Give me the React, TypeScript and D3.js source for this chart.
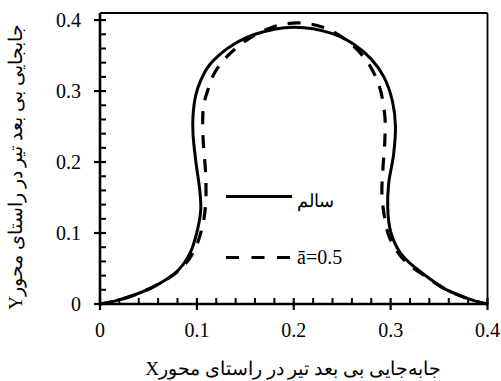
import React from "react";
import * as d3 from "d3";

const solidX = [0, 0.012, 0.034, 0.059, 0.081, 0.093, 0.1, 0.104, 0.103, 0.099, 0.096, 0.096, 0.099, 0.104, 0.112, 0.125, 0.137, 0.16, 0.2, 0.24, 0.262, 0.28, 0.293, 0.302, 0.305, 0.303, 0.298, 0.297, 0.3, 0.31, 0.322, 0.338, 0.355, 0.375, 0.39, 0.4];
const solidY = [0, 0.003, 0.012, 0.027, 0.048, 0.072, 0.101, 0.133, 0.16, 0.2, 0.24, 0.265, 0.295, 0.315, 0.335, 0.353, 0.365, 0.38, 0.39, 0.381, 0.366, 0.345, 0.32, 0.285, 0.25, 0.21, 0.17, 0.135, 0.102, 0.072, 0.055, 0.038, 0.022, 0.01, 0.003, 0];
const dashX = [0, 0.012, 0.034, 0.059, 0.082, 0.096, 0.105, 0.109, 0.109, 0.107, 0.106, 0.107, 0.111, 0.118, 0.132, 0.155, 0.18, 0.205, 0.23, 0.255, 0.275, 0.288, 0.294, 0.294, 0.292, 0.291, 0.294, 0.299, 0.31, 0.322, 0.338, 0.355, 0.375, 0.39, 0.4];
const dashY = [0, 0.003, 0.012, 0.027, 0.048, 0.072, 0.105, 0.14, 0.185, 0.22, 0.25, 0.28, 0.3, 0.325, 0.35, 0.375, 0.391, 0.396, 0.39, 0.371, 0.343, 0.308, 0.265, 0.23, 0.19, 0.155, 0.12, 0.093, 0.068, 0.052, 0.037, 0.022, 0.01, 0.003, 0];

const xTicks = [0, 0.1, 0.2, 0.3, 0.4];
const yTicks = [0, 0.1, 0.2, 0.3, 0.4];
const minorStep = 0.02;
const seriesNames = ["سالم", "ā=0.5"];
const xTitle = "جابه‌جایی بی بعد تیر در راستای محورX";
const yTitle = "جابجایی بی بعد تیر در راستای محورY";

const W = 501;
const H = 381;
const L = 100, R = 487.5, T = 13, B = 304;

export default function App() {
  const x = d3.scaleLinear().domain([0, 0.4]).range([L, R]);
  const y = d3.scaleLinear().domain([0, 0.41]).range([B, T]);
  const line = d3
    .line<[number, number]>()
    .x((d) => x(d[0]))
    .y((d) => y(d[1]))
    .curve(d3.curveCatmullRom.alpha(0.5));
  const solidPts = solidX.map((v, i) => [v, solidY[i]] as [number, number]);
  const dashPts = dashX.map((v, i) => [v, dashY[i]] as [number, number]);
  const minorX = d3.range(0, 0.4 + 1e-9, minorStep).filter((v) => !xTicks.some((t) => Math.abs(t - v) < 1e-6));
  const minorY = d3.range(0, 0.4 + 1e-9, minorStep).filter((v) => !yTicks.some((t) => Math.abs(t - v) < 1e-6));
  const serif = "Liberation Serif";
  const arabic = "Liberation Serif";

  return (
    <svg width={W} height={H} style={{ position: "absolute", left: 0, top: 0, background: "#fff" }}>
      <rect x={0} y={0} width={W} height={H} fill="#fff" />
      {/* frame */}
      <line x1={L} x2={R} y1={T} y2={T} stroke="#000" strokeWidth={1.8} />
      <line x1={R} x2={R} y1={T} y2={B} stroke="#000" strokeWidth={1.8} />
      {/* curves */}
      <path d={line(solidPts) || ""} fill="none" stroke="#000" strokeWidth={3} />
      <path d={line(dashPts) || ""} fill="none" stroke="#000" strokeWidth={3.2} strokeDasharray="13,11" />
      {/* axes */}
      <line x1={L} x2={L} y1={T} y2={B + 1} stroke="#000" strokeWidth={2.6} />
      <line x1={L - 1} x2={R + 1} y1={B} y2={B} stroke="#000" strokeWidth={2.6} />
      {yTicks.map((t) => (
        <line key={"yt" + t} x1={L - 6} x2={L + 6} y1={y(t)} y2={y(t)} stroke="#000" strokeWidth={2.2} />
      ))}
      {minorY.map((t) => (
        <line key={"ym" + t} x1={L} x2={L + 6} y1={y(t)} y2={y(t)} stroke="#000" strokeWidth={2} />
      ))}
      {xTicks.map((t) => (
        <line key={"xt" + t} x1={x(t)} x2={x(t)} y1={B - 6} y2={B + 6} stroke="#000" strokeWidth={2.2} />
      ))}
      {minorX.map((t) => (
        <line key={"xm" + t} x1={x(t)} x2={x(t)} y1={B - 6} y2={B} stroke="#000" strokeWidth={2} />
      ))}
      {yTicks.map((t) => (
        <text key={"yl" + t} x={81} y={y(t)} dy="0.34em" textAnchor="end" fontFamily={serif} fontSize={20}>
          {String(t)}
        </text>
      ))}
      {xTicks.map((t) => (
        <text key={"xl" + t} x={x(t)} y={337} textAnchor="middle" fontFamily={serif} fontSize={20}>
          {String(t)}
        </text>
      ))}
      {/* legend */}
      <line x1={226} x2={292} y1={196.5} y2={196.5} stroke="#000" strokeWidth={3} />
      <text x={297} y={207} fontFamily={arabic} fontSize={18}>
        {seriesNames[0]}
      </text>
      <line x1={226} x2={292} y1={257.5} y2={257.5} stroke="#000" strokeWidth={3.2} strokeDasharray="13,12.5" />
      <text x={297} y={264} fontFamily={serif} fontSize={20}>
        {seriesNames[1]}
      </text>
      {/* titles */}
      <text x={293} y={375} textAnchor="middle" direction="rtl" fontFamily={arabic} fontSize={19.2}>
        {xTitle}
      </text>
      <text
        transform={`translate(22,167) rotate(-90)`}
        textAnchor="middle"
        direction="rtl"
        fontFamily={arabic}
        fontSize={19.2}
      >
        {yTitle}
      </text>
    </svg>
  );
}
